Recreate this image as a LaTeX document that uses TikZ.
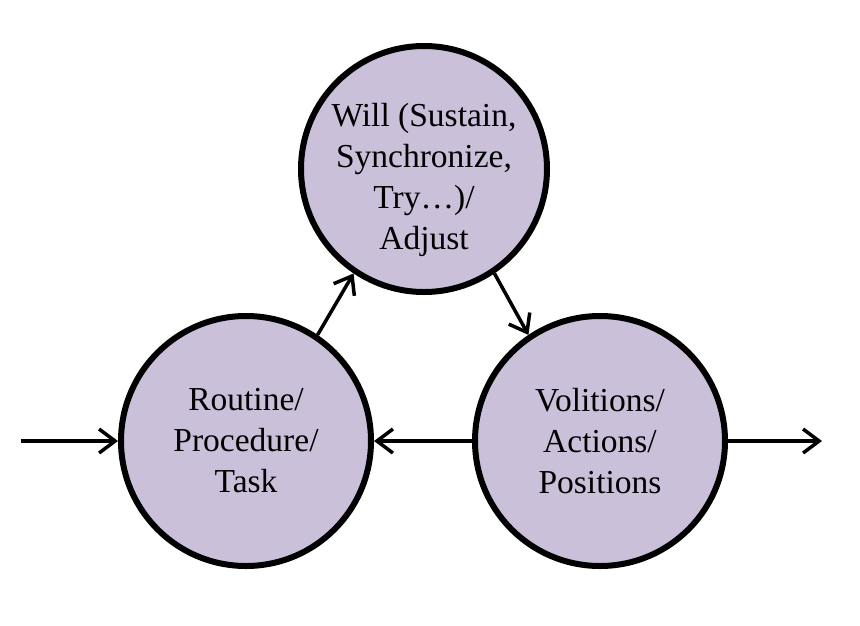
\documentclass[tikz,border=0pt]{standalone}
\usepackage{fontspec}
\setmainfont{Liberation Serif}
\usetikzlibrary{arrows.meta}
\definecolor{lav}{RGB}{203,192,218}
\begin{document}
\begin{tikzpicture}[x=1pt,y=-1pt,
  circ/.style={circle,draw=black,fill=lav,line width=6pt,inner sep=0pt},
  lbl/.style={align=center,font=\fontsize{33.5}{41}\selectfont},
  arr/.style={line width=3.5pt,-{Straight Barb[length=16pt,width=24pt,line width=3.5pt]}},
]
\useasboundingbox (0,0) rectangle (860,625);
\node[circ,minimum size=246pt] (T) at (424,169) {};
\node[lbl] (Tt) at (424,180) {Will (Sustain,\\Synchronize,\\Try…)/\\Adjust};
\node[circ,minimum size=250pt,lbl] (L) at (246,441) {Routine/\\Procedure/\\Task};
\node[circ,minimum size=250pt,lbl] (R) at (600,441) {Volitions/\\Actions/\\Positions};
\coordinate (in) at (21,441);
\coordinate (out) at (822,441);
\draw[arr] (in) -- (L.west);
\draw[arr] (L.56) -- (T.236);
\draw[arr] (T.304) -- (R.124);
\draw[arr] (R.west) -- (L.east);
\draw[arr] (R.east) -- (out);
\end{tikzpicture}
\end{document}
